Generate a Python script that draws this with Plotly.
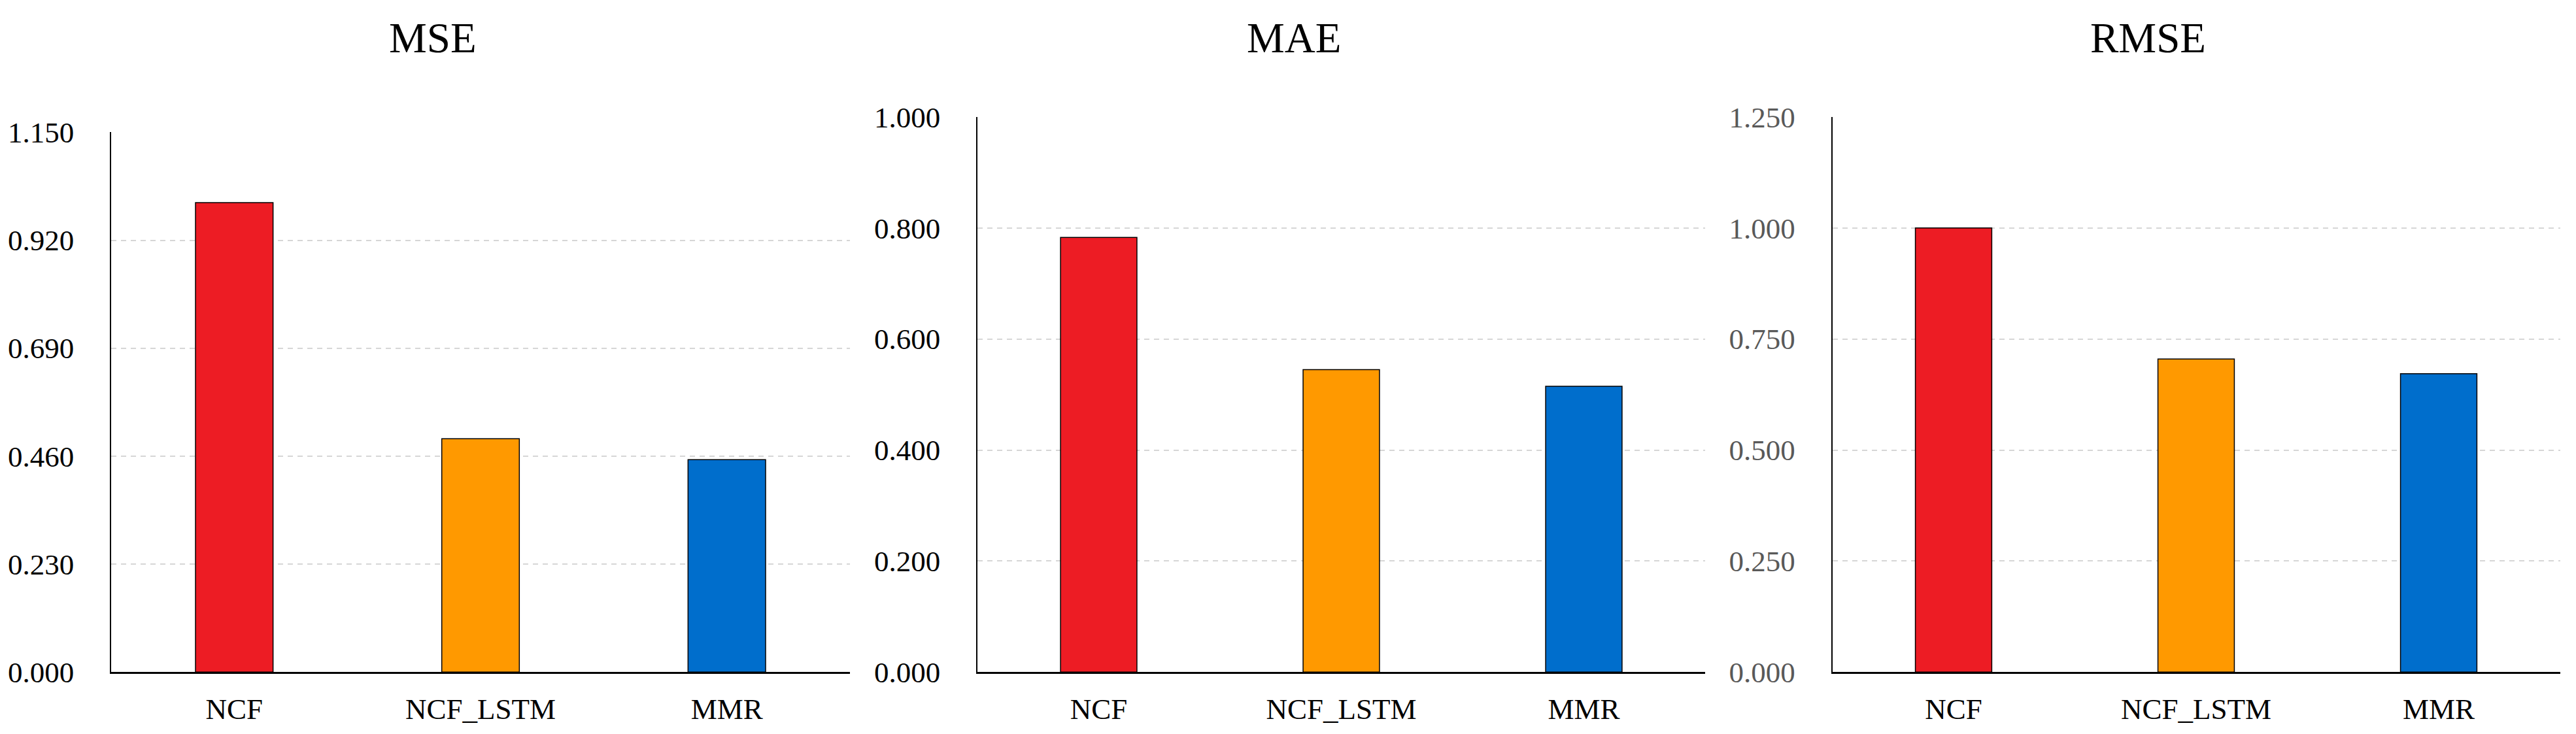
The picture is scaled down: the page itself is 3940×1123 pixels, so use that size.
import plotly.graph_objects as go

categories = ["NCF", "NCF_LSTM", "MMR"]
mse_values = [1.000, 0.497, 0.4525]
mae_values = [0.783, 0.545, 0.515]
rmse_values = [1.000, 0.705, 0.672]

metric_titles = ["MSE", "MAE", "RMSE"]
mse_ticks = [0.0, 0.23, 0.46, 0.69, 0.92, 1.15]
mae_ticks = [0.0, 0.2, 0.4, 0.6, 0.8, 1.0]
rmse_ticks = [0.0, 0.25, 0.5, 0.75, 1.0, 1.25]

bar_colors = ["#ED1C24", "#FF9900", "#006ECC"]

W, H = 3940, 1123
FONT = "Liberation Serif, Times New Roman, serif"

panels = [
    dict(values=mse_values, ticks=mse_ticks, x0=170, x1=1300, ytop=202.3, tickcolor="#000000", title_x=662),
    dict(values=mae_values, ticks=mae_ticks, x0=1495, x1=2608, ytop=179, tickcolor="#000000", title_x=1979),
    dict(values=rmse_values, ticks=rmse_ticks, x0=2802.5, x1=3915.5, ytop=179, tickcolor="#595959", title_x=3285),
]
ybottom = 1028.3

fig = go.Figure()
layout = dict(
    template="none",
    width=W, height=H,
    autosize=False,
    margin=dict(l=0, r=0, t=0, b=0, pad=0),
    paper_bgcolor="white", plot_bgcolor="white",
    showlegend=False,
    font=dict(family=FONT, color="black"),
    annotations=[],
)

for i, p in enumerate(panels):
    n = "" if i == 0 else str(i + 1)
    fig.add_trace(go.Bar(
        x=categories, y=p["values"],
        marker=dict(color=bar_colors, line=dict(color="black", width=1.5)),
        width=0.315,
        xaxis="x" + n, yaxis="y" + n,
        hoverinfo="x+y",
    ))
    layout["xaxis" + n] = dict(
        domain=[p["x0"] / W, p["x1"] / W],
        anchor="y" + n,
        automargin=False,
        showline=True, linecolor="black", linewidth=2.5,
        showgrid=False, zeroline=False,
        ticks="", ticklabelstandoff=15,
        tickfont=dict(family=FONT, size=45, color="black"),
        range=[-0.5, 2.5],
    )
    layout["yaxis" + n] = dict(
        domain=[1 - ybottom / H, 1 - p["ytop"] / H],
        anchor="x" + n,
        automargin=False,
        range=[0, p["ticks"][-1]],
        tickvals=p["ticks"],
        ticktext=[f"{t:.3f}" for t in p["ticks"]],
        showline=True, linecolor="black", linewidth=1.5,
        showgrid=True, gridcolor="#D6D6D6", gridwidth=2, griddash="8px,7px",
        zeroline=False,
        ticks="", ticklabelstandoff=46,
        tickfont=dict(family=FONT, size=45, color=p["tickcolor"]),
    )
    layout["annotations"].append(dict(
        text=metric_titles[i], xref="paper", yref="paper",
        x=p["title_x"] / W, y=1 - 58 / H, xanchor="center", yanchor="middle",
        showarrow=False, font=dict(family=FONT, size=65, color="black"),
    ))

fig.update_layout(**layout)
fig.write_html("out.html", config={"displayModeBar": False},
               post_script="document.body.style.margin='0';")
